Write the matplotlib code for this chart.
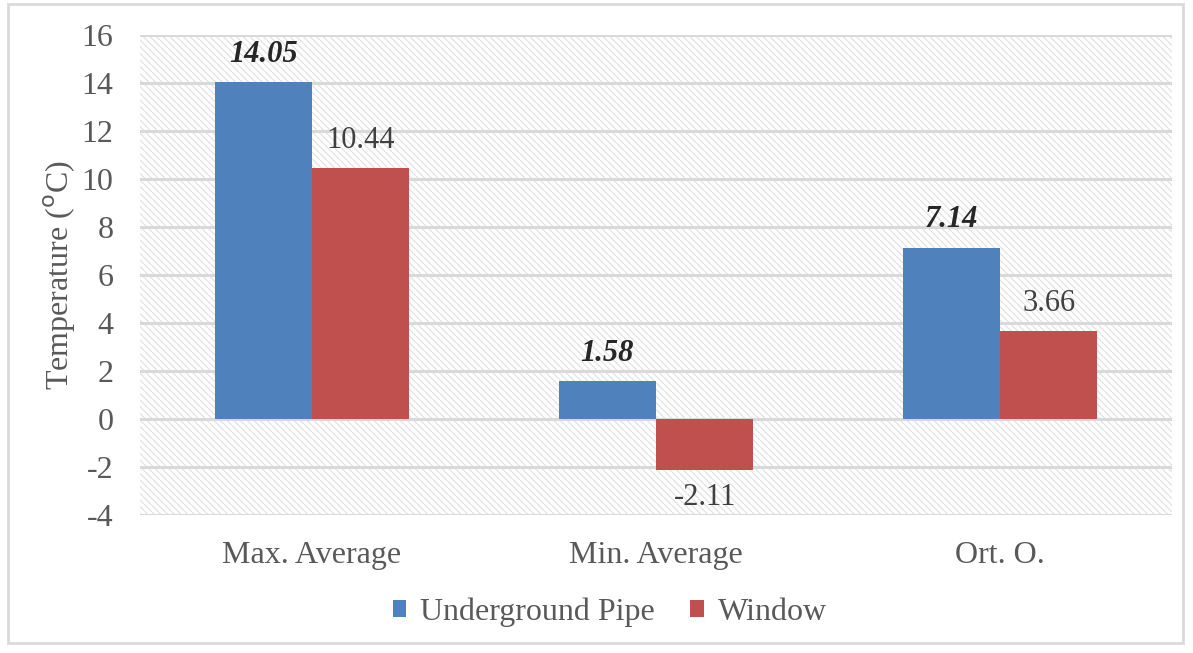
import matplotlib
matplotlib.use("Agg")
import matplotlib.pyplot as plt
import numpy as np
from matplotlib.patches import Rectangle

categories = ["Max. Average", "Min. Average", "Ort. O."]
underground_pipe = [14.05, 1.58, 7.14]
window = [10.44, -2.11, 3.66]
series_names = ["Underground Pipe", "Window"]
yticks = [-4, -2, 0, 2, 4, 6, 8, 10, 12, 14, 16]

plt.rcParams["font.family"] = ["Liberation Serif", "DejaVu Serif"]
plt.rcParams["hatch.linewidth"] = 0.8
plt.rcParams["hatch.color"] = "#e0e0e0"

BLUE = "#4f81bd"
RED = "#c0504d"
GRID = "#d9d9d9"
TEXT = "#595959"
FS = 23

fig = plt.figure(figsize=(11.93, 6.53), dpi=100)
ax = fig.add_axes([140 / 1193, 1 - 515 / 653, 1032 / 1193, 480 / 653])

# hatched plot background
ax.patch.set_facecolor("white")
ax.patch.set_hatch("\\\\\\\\\\")
ax.patch.set_edgecolor("#e0e0e0")
ax.patch.set_linewidth(0)

x = np.arange(len(categories))
w = 0.283
b1 = ax.bar(x - w / 2, underground_pipe, w, color=BLUE, zorder=3)
b2 = ax.bar(x + w / 2, window, w, color=RED, zorder=3)

ax.set_xlim(-0.5, 2.5)
ax.set_ylim(-4, 16)
ax.set_yticks(yticks)
ax.set_yticklabels([str(t) for t in yticks])
ax.yaxis.grid(True, color=GRID, linewidth=2.2, zorder=1)
ax.set_axisbelow(True)
for s in ax.spines.values():
    s.set_visible(False)
ax.tick_params(axis="both", length=0, labelsize=FS, colors=TEXT)
ax.tick_params(axis="y", pad=19)
ax.tick_params(axis="x", pad=19)
ax.set_xticks(x)
ax.set_xticklabels(categories)

ax.set_ylabel("Temperature ($^{\\mathrm{o}}$C)", fontsize=FS, color=TEXT, labelpad=3)

# value labels
for xi, v in zip(x, underground_pipe):
    ax.annotate(f"{v:.2f}", (xi - w / 2, v), xytext=(0, 20), textcoords="offset points",
                ha="center", va="center", fontsize=22, fontweight="bold",
                fontstyle="italic", color="#262626")
for xi, v in zip(x, window):
    off = 20 if v >= 0 else -20
    ax.annotate(f"{v:.2f}", (xi + w / 2, v), xytext=(0, off),
                textcoords="offset points", ha="center", va="center",
                fontsize=22, color="#404040")

leg = fig.legend([b1, b2], series_names, loc="center", bbox_to_anchor=(610 / 1193, 1 - 612 / 653),
                 ncol=2, frameon=False, fontsize=FS, handlelength=0.42, handleheight=0.42,
                 handletextpad=0.45, columnspacing=1.1)
for t in leg.get_texts():
    t.set_color(TEXT)

# outer chart border
fig.patches.append(Rectangle((8 / 1193, 10 / 653), 1175 / 1193, 639 / 653,
                             transform=fig.transFigure, fill=False,
                             edgecolor=GRID, linewidth=2))

fig.savefig("out.png", dpi=100)
